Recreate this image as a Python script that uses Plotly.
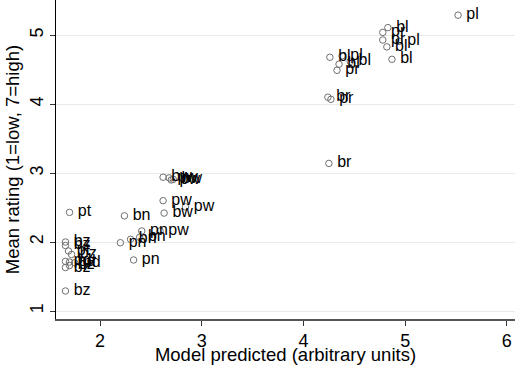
import plotly.graph_objects as go

model_pred = [5.52, 4.83, 4.78, 4.78, 4.94, 4.82, 4.87,
              4.26, 4.38, 4.35, 4.46, 4.33,
              4.24, 4.27, 4.25,
              2.62, 2.70, 2.68, 2.72, 2.62, 2.63, 2.84, 2.59,
              2.41, 2.20, 2.30, 2.39, 2.33, 2.24,
              1.70, 1.66,
              1.66, 1.66, 1.69, 1.72, 1.66, 1.70, 1.75, 1.66, 1.70]
mean_rating = [5.29, 5.11, 5.04, 4.93, 4.91, 4.83, 4.65,
               4.68, 4.70, 4.58, 4.62, 4.49,
               4.10, 4.07, 3.14,
               2.94, 2.90, 2.93, 2.91, 2.60, 2.42, 2.51, 2.16,
               2.16, 1.99, 2.04, 2.07, 1.74, 2.38,
               2.43, 1.29,
               2.00, 1.95, 1.87, 1.82, 1.72, 1.71, 1.70, 1.63, 1.66]
labels = ["pl", "bl", "pr", "pr", "pl", "bl", "bl",
          "bl", "pl", "bl", "bl", "pr",
          "br", "pr", "br",
          "bw", "pw", "pw", "bw", "pw", "bw", "pw", "pw",
          "pn", "pn", "bn", "bn", "pn", "bn",
          "pt", "bz",
          "bz", "bz", "pt", "bz", "pd", "bd", "pd", "bz", "bz"]

x_ticks = [2, 3, 4, 5, 6]
y_ticks = [1, 2, 3, 4, 5]

font = "Liberation Sans, Arial, Helvetica, sans-serif"

fig = go.Figure(go.Scatter(
    x=model_pred, y=mean_rating, text=labels,
    mode="markers+text", textposition="middle right",
    texttemplate="\u2009%{text}",
    textfont=dict(family=font, size=16, color="black"),
    marker=dict(symbol="circle-open", size=6.5, color="#707070", line=dict(width=1)),
    showlegend=False, cliponaxis=False, hoverinfo="skip",
))

fig.update_layout(
    width=515, height=365,
    margin=dict(l=56, r=0, t=0, b=46),
    paper_bgcolor="white", plot_bgcolor="white",
    font=dict(family=font, size=18, color="black"),
)
fig.update_xaxes(
    range=[1.567, 6.08], tickvals=x_ticks, ticks="outside", ticklen=5,
    tickcolor="#333333", showline=True, linecolor="#555555", linewidth=1.5,
    showgrid=False, zeroline=False,
    title=dict(text="Model predicted (arbitrary units)", standoff=0,
               font=dict(size=18.5)),
    tickfont=dict(size=18),
)
fig.update_yaxes(
    range=[0.884, 5.51], tickvals=y_ticks, ticks="outside", ticklen=5,
    tickcolor="#333333", showline=True, linecolor="black", linewidth=1,
    showgrid=True, gridcolor="#eaeaea", gridwidth=1, zeroline=False,
    tickangle=-90,
    title=dict(text="Mean rating (1=low, 7=high)", standoff=2,
               font=dict(size=18.5)),
    tickfont=dict(size=18),
)

fig.write_html("out.html")
